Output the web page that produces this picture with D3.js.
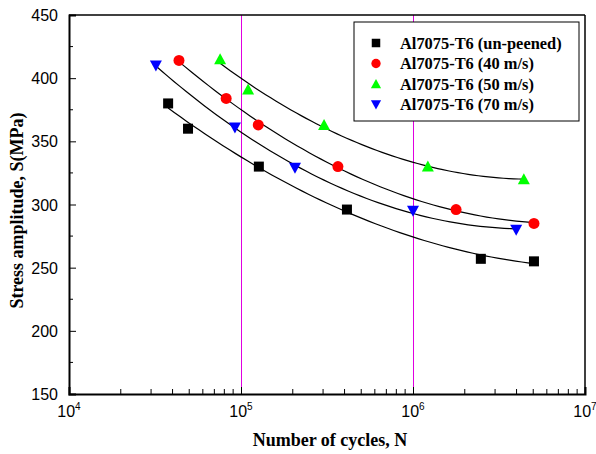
<!DOCTYPE html>
<html>
<head>
<meta charset="utf-8">
<script src="https://cdn.jsdelivr.net/npm/d3@7"></script>
<style>
  body { margin: 0; background: #fff; }
  svg { display: block; }
</style>
</head>
<body>
<svg id="chart"></svg>
<script>
// data
const seriesNames = ["Al7075-T6 (un-peened)", "Al7075-T6 (40 m/s)", "Al7075-T6 (50 m/s)", "Al7075-T6 (70 m/s)"];
const unpeenedN = [3.77e4, 4.92e4, 1.27e5, 4.13e5, 2.48e6, 5.05e6];
const unpeenedS = [380, 360, 330, 296, 257, 255];
const v40N = [4.36e4, 8.2e4, 1.26e5, 3.66e5, 1.78e6, 5.05e6];
const v40S = [414, 384, 363, 330, 296, 285];
const v50N = [7.56e4, 1.1e5, 3.04e5, 1.22e6, 4.41e6];
const v50S = [415, 391, 363, 330, 320];
const v70N = [3.2e4, 9.22e4, 2.06e5, 1.0e6, 3.98e6];
const v70S = [410, 361, 329, 295, 280];
const yTicks = [150, 200, 250, 300, 350, 400, 450];
const xDecades = [4, 5, 6, 7];
const guideLines = [1e5, 1e6];

const width = 596;
const height = 454;
const margin = { left: 69, right: 11, top: 15, bottom: 60 };

const svg = d3.select("#chart").attr("width", width).attr("height", height);

const x = d3.scaleLog().domain([1e4, 1e7]).range([margin.left, width - margin.right]);
const y = d3.scaleLinear().domain([150, 450]).range([height - margin.bottom, margin.top]);

const series = [
  { name: seriesNames[0], N: unpeenedN, S: unpeenedS, color: "#000000", shape: "square" },
  { name: seriesNames[1], N: v40N, S: v40S, color: "#ff0000", shape: "circle" },
  { name: seriesNames[2], N: v50N, S: v50S, color: "#00ff00", shape: "up" },
  { name: seriesNames[3], N: v70N, S: v70S, color: "#0000ff", shape: "down" }
];

// vertical guide lines
svg.append("g")
  .selectAll("line")
  .data(guideLines)
  .join("line")
  .attr("x1", d => Math.round(x(d)) + 0.5).attr("x2", d => Math.round(x(d)) + 0.5)
  .attr("y1", y(450)).attr("y2", y(150))
  .attr("stroke", "#e000e0")
  .attr("stroke-width", 1);

// least squares quadratic in log10(N), the trend curve
function fitQuad(N, S) {
  const u = N.map(Math.log10);
  let s = [0, 0, 0, 0, 0], t = [0, 0, 0];
  u.forEach((ui, i) => {
    for (let k = 0; k < 5; k++) s[k] += Math.pow(ui, k);
    for (let k = 0; k < 3; k++) t[k] += S[i] * Math.pow(ui, k);
  });
  const A = [[s[0], s[1], s[2], t[0]], [s[1], s[2], s[3], t[1]], [s[2], s[3], s[4], t[2]]];
  for (let i = 0; i < 3; i++) {
    for (let j = i + 1; j < 3; j++) {
      const f = A[j][i] / A[i][i];
      for (let k = i; k < 4; k++) A[j][k] -= f * A[i][k];
    }
  }
  const c = [0, 0, 0];
  for (let i = 2; i >= 0; i--) {
    let v = A[i][3];
    for (let k = i + 1; k < 3; k++) v -= A[i][k] * c[k];
    c[i] = v / A[i][i];
  }
  return lu => c[0] + c[1] * lu + c[2] * lu * lu;
}

const line = d3.line().x(d => x(d[0])).y(d => y(d[1]));

series.forEach(s => {
  const f = fitQuad(s.N, s.S);
  const u0 = Math.log10(d3.min(s.N)), u1 = Math.log10(d3.max(s.N));
  const pts = d3.range(0, 61).map(i => {
    const lu = u0 + (u1 - u0) * i / 60;
    return [Math.pow(10, lu), f(lu)];
  });
  svg.append("path")
    .attr("d", line(pts))
    .attr("fill", "none")
    .attr("stroke", "#000")
    .attr("stroke-width", 1.2);
});

// marker drawing
function marker(g, shape, color) {
  if (shape === "square") {
    g.append("rect").attr("x", -5).attr("y", -5).attr("width", 10).attr("height", 10).attr("fill", color);
  } else if (shape === "circle") {
    g.append("circle").attr("r", 5.5).attr("fill", color);
  } else if (shape === "up") {
    g.append("path").attr("d", "M0,-6L6,5L-6,5Z").attr("fill", color);
  } else {
    g.append("path").attr("d", "M0,6L6,-5L-6,-5Z").attr("fill", color);
  }
}

series.forEach(s => {
  s.N.forEach((n, i) => {
    const g = svg.append("g").attr("transform", `translate(${x(n)},${y(s.S[i])})`);
    marker(g, s.shape, s.color);
  });
});

// axes with inward ticks
const yMinor = d3.range(175, 450, 50);
const axisY = svg.append("g").attr("transform", `translate(${margin.left},0)`);
axisY.call(d3.axisLeft(y).tickValues(yTicks).tickSize(-7).tickPadding(11).tickFormat(d3.format("d")));
axisY.selectAll(".tick").filter(d => d === 150 || d === 450).select("line").remove();
axisY.append("g").selectAll("line").data(yMinor).join("line")
  .attr("x1", 0).attr("x2", 4).attr("y1", d => y(d)).attr("y2", d => y(d)).attr("stroke", "#000");

const xMinor = [];
[1e4, 1e5, 1e6].forEach(b => { for (let k = 2; k <= 9; k++) xMinor.push(b * k); });
const axisX = svg.append("g").attr("transform", `translate(0,${height - margin.bottom})`);
axisX.call(d3.axisBottom(x).tickValues(xDecades.map(e => Math.pow(10, e))).tickSize(-7).tickPadding(10).tickFormat(""));
axisX.append("g").selectAll("line").data(xMinor).join("line")
  .attr("x1", d => x(d)).attr("x2", d => x(d)).attr("y1", 0).attr("y2", -5).attr("stroke", "#000");
axisX.selectAll(".tick").filter(d => d === 1e4 || d === 1e7).select("line").remove();

[axisX, axisY].forEach(a => {
  a.select(".domain").attr("stroke-width", 2);
  a.selectAll("text").attr("font-family", "Liberation Sans, Arial, sans-serif").attr("font-size", 16).attr("fill", "#000");
});
axisY.selectAll(".tick text").attr("dy", "0.35em");

// power-of-ten labels
const xl = svg.append("g").attr("font-family", "Liberation Sans, Arial, sans-serif").attr("fill", "#000");
xDecades.forEach(e => {
  const t = xl.append("text").attr("x", x(Math.pow(10, e))).attr("y", 417).attr("text-anchor", "middle").attr("font-size", 16);
  t.append("tspan").text("10");
  t.append("tspan").attr("font-size", 10).attr("dy", -7).text(e);
});

// top and right frame
svg.append("line").attr("x1", margin.left).attr("x2", width - margin.right).attr("y1", margin.top).attr("y2", margin.top)
  .attr("stroke", "#000").attr("stroke-width", 1.5);
svg.append("line").attr("x1", width - margin.right).attr("x2", width - margin.right).attr("y1", margin.top).attr("y2", height - margin.bottom)
  .attr("stroke", "#000").attr("stroke-width", 1.5);

// axis titles
svg.append("text")
  .attr("x", (margin.left + width - margin.right) / 2 + 3).attr("y", 446)
  .attr("text-anchor", "middle")
  .attr("font-family", "Liberation Serif, Times New Roman, serif").attr("font-weight", "bold").attr("font-size", 18)
  .text("Number of cycles, N");
svg.append("text")
  .attr("transform", `translate(23,${(margin.top + height - margin.bottom) / 2 + 6}) rotate(-90)`)
  .attr("text-anchor", "middle")
  .attr("font-family", "Liberation Serif, Times New Roman, serif").attr("font-weight", "bold").attr("font-size", 18)
  .text("Stress amplitude, S(MPa)");

// legend
const legend = svg.append("g");
legend.append("rect").attr("x", 354).attr("y", 22).attr("width", 225).attr("height", 99)
  .attr("fill", "#fff").attr("stroke", "#000").attr("stroke-width", 1);
series.forEach((s, i) => {
  const yy = 43 + i * 20.5;
  const g = legend.append("g").attr("transform", `translate(376,${yy}) scale(0.85)`);
  marker(g, s.shape, s.color);
  legend.append("text").attr("x", 400).attr("y", yy).attr("dy", "0.35em")
    .attr("font-family", "Liberation Serif, Times New Roman, serif").attr("font-weight", "bold").attr("font-size", 16.4)
    .text(s.name);
});
</script>
</body>
</html>
